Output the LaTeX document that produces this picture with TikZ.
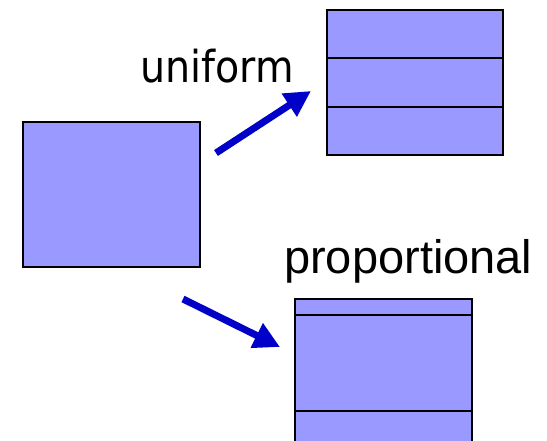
\documentclass[tikz,border=0pt]{standalone}
\usepackage{fontspec}
\setmainfont{Liberation Sans}
\newfontfamily\narrowsans[FakeStretch=0.9]{DejaVu Sans}
\usetikzlibrary{arrows.meta}
\definecolor{boxfill}{HTML}{9999FF}
\definecolor{arrowblue}{HTML}{0000C8}
\begin{document}
\begin{tikzpicture}[x=1pt,y=-1pt,
  blockbox/.style={draw=black,line width=1.6pt,fill=boxfill,inner sep=0pt,outer sep=0pt},
  divider/.style={draw=black,line width=1.6pt},
  bigarrow/.style={draw=arrowblue,line width=7pt,-{Triangle[length=26pt,width=26pt]}},
  caption/.style={inner sep=0pt,anchor=base west,font=\fontsize{47}{56}\selectfont}]
  \useasboundingbox (0,0) rectangle (547,440);
  \clip (0,0) rectangle (547,440);
  % source block
  \node[blockbox,minimum width=177pt,minimum height=145pt] (src) at (111.5,194.5) {};
  % uniform partition
  \node[blockbox,minimum width=176pt,minimum height=145pt] (uni) at (415,82.5) {};
  \draw[divider] ([yshift=-48pt]uni.north west) -- ([yshift=-48pt]uni.north east);
  \draw[divider] ([yshift=-97pt]uni.north west) -- ([yshift=-97pt]uni.north east);
  % proportional partition
  \node[blockbox,minimum width=177pt,minimum height=160pt] (prop) at (383.5,379) {};
  \draw[divider] ([yshift=-16pt]prop.north west) -- ([yshift=-16pt]prop.north east);
  \draw[divider] ([yshift=-112pt]prop.north west) -- ([yshift=-112pt]prop.north east);
  % labels
  \node[caption,font=\narrowsans\fontsize{44}{52}\selectfont] (lu) at (140,82) {uniform};
  \node[caption] (lp) at (284,273) {proportional};
  % arrows
  \coordinate (a1s) at (216,153);
  \coordinate (a1e) at (311,91);
  \coordinate (a2s) at (183,299);
  \coordinate (a2e) at (280,347);
  \draw[bigarrow] (a1s) -- (a1e);
  \draw[bigarrow] (a2s) -- (a2e);
\end{tikzpicture}
\end{document}
